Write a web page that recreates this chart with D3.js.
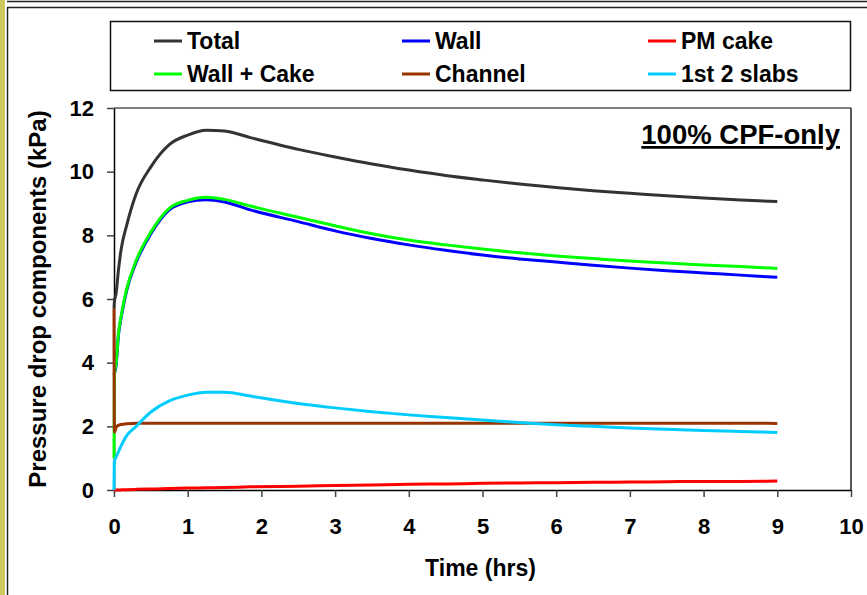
<!DOCTYPE html>
<html>
<head>
<meta charset="utf-8">
<script src="https://cdn.jsdelivr.net/npm/d3@7"></script>
<style>
  body { margin: 0; background: #fff; }
  svg { display: block; font-family: Arial, "Liberation Sans", sans-serif; }
</style>
</head>
<body>
<div id="chart"></div>
<script>
// ---- data ----
const timeHrs   = [0, 0.005, 0.03, 0.06, 0.1, 0.17, 0.3, 0.5, 0.75, 1.0, 1.25, 1.5, 1.85, 2.5, 3, 3.5, 4, 4.5, 5, 5.5, 6, 6.5, 7, 7.5, 8, 8.5, 9];
const total     = [5.7, 5.9, 6.2, 6.9, 7.6, 8.3, 9.3, 10.15, 10.85, 11.15, 11.3, 11.28, 11.07, 10.7, 10.46, 10.24, 10.05, 9.88, 9.74, 9.61, 9.5, 9.4, 9.32, 9.24, 9.17, 9.11, 9.06];
const wall      = [3.6, 3.65, 3.95, 4.85, 5.45, 6.25, 7.15, 8.05, 8.8, 9.05, 9.12, 9.05, 8.8, 8.43, 8.14, 7.9, 7.7, 7.53, 7.38, 7.26, 7.16, 7.06, 6.97, 6.89, 6.82, 6.75, 6.68];
const pmCake    = [0, 0, 0, 0, 0.005, 0.01, 0.02, 0.03, 0.045, 0.06, 0.07, 0.08, 0.1, 0.12, 0.14, 0.16, 0.18, 0.19, 0.21, 0.22, 0.23, 0.24, 0.25, 0.26, 0.27, 0.27, 0.28];
const wallCake  = [1.0, 3.6, 4.0, 4.9, 5.5, 6.3, 7.2, 8.1, 8.85, 9.1, 9.2, 9.13, 8.92, 8.57, 8.3, 8.05, 7.85, 7.7, 7.57, 7.45, 7.35, 7.27, 7.19, 7.13, 7.07, 7.02, 6.96];
const channel   = [5.7, 1.82, 1.97, 2.03, 2.06, 2.08, 2.1, 2.1, 2.1, 2.1, 2.1, 2.1, 2.1, 2.1, 2.1, 2.1, 2.1, 2.1, 2.1, 2.1, 2.1, 2.1, 2.1, 2.1, 2.1, 2.1, 2.09];
const slabs     = [0, 0.9, 1.05, 1.2, 1.4, 1.7, 2.0, 2.45, 2.8, 2.98, 3.07, 3.07, 2.95, 2.72, 2.58, 2.46, 2.36, 2.28, 2.2, 2.12, 2.05, 2.0, 1.95, 1.91, 1.87, 1.84, 1.81];

const seriesNames  = ["Total", "Wall", "PM cake", "Wall + Cake", "Channel", "1st 2 slabs"];
const seriesValues = [total, wall, pmCake, wallCake, channel, slabs];
const seriesColors = ["#333333", "#0000ff", "#ff0000", "#00ff00", "#993300", "#00ccff"];

const xTicks = [0, 1, 2, 3, 4, 5, 6, 7, 8, 9, 10];
const yTicks = [0, 2, 4, 6, 8, 10, 12];

// ---- layout ----
const width = 867, height = 595;
const plot = { left: 114, right: 851, top: 108, bottom: 490 };

const svg = d3.select("#chart").append("svg")
  .attr("width", width)
  .attr("height", height);

// window frame
svg.append("rect").attr("x", 0).attr("y", 0).attr("width", 5).attr("height", height).attr("fill", "#cdc95a");
svg.append("line").attr("x1", 7).attr("x2", width).attr("y1", 1.5).attr("y2", 1.5).attr("stroke", "#222").attr("stroke-width", 1.5);
svg.append("line").attr("x1", 7).attr("x2", width).attr("y1", 7.5).attr("y2", 7.5).attr("stroke", "#222").attr("stroke-width", 1.5);
svg.append("line").attr("x1", 7.5).attr("x2", 7.5).attr("y1", 7.5).attr("y2", height).attr("stroke", "#222").attr("stroke-width", 1.5);

const x = d3.scaleLinear().domain([0, 10]).range([plot.left, plot.right]);
const y = d3.scaleLinear().domain([0, 12]).range([plot.bottom, plot.top]);

// plot area border (top grey, right dark)
svg.append("line").attr("x1", plot.left).attr("x2", plot.right).attr("y1", plot.top).attr("y2", plot.top)
  .attr("stroke", "#808080").attr("stroke-width", 2);
svg.append("line").attr("x1", plot.right).attr("x2", plot.right).attr("y1", plot.top).attr("y2", plot.bottom)
  .attr("stroke", "#222").attr("stroke-width", 1.5);

// axes
const xAxis = svg.append("g")
  .attr("transform", `translate(0,${plot.bottom})`)
  .call(d3.axisBottom(x).tickValues(xTicks).tickFormat(d3.format("d")).tickSize(7).tickSizeOuter(0).tickPadding(21));
const yAxis = svg.append("g")
  .attr("transform", `translate(${plot.left},0)`)
  .call(d3.axisLeft(y).tickValues(yTicks).tickFormat(d3.format("d")).tickSize(7).tickSizeOuter(0).tickPadding(13));

[xAxis, yAxis].forEach(g => {
  g.select(".domain").attr("stroke", "#000").attr("stroke-width", 1.5);
  g.selectAll(".tick line").attr("stroke", "#444").attr("stroke-width", 1.5);
  g.selectAll(".tick text").attr("fill", "#000").attr("font-size", "22px").attr("font-weight", "bold")
    .attr("font-family", "Arial, 'Liberation Sans', sans-serif");
});

// axis titles
svg.append("text")
  .attr("x", (plot.left + plot.right) / 2 - 2).attr("y", 576)
  .attr("text-anchor", "middle").attr("font-size", "23px").attr("font-weight", "bold")
  .text("Time (hrs)");
svg.append("text")
  .attr("transform", `translate(46,${(plot.top + plot.bottom) / 2}) rotate(-90)`)
  .attr("text-anchor", "middle").attr("font-size", "24px").attr("font-weight", "bold")
  .text("Pressure drop components (kPa)");

// lines
const line = d3.line()
  .x((d, i) => x(timeHrs[i]))
  .y(d => y(d))
  .curve(d3.curveMonotoneX);

svg.append("g").selectAll("path")
  .data(seriesValues)
  .join("path")
  .attr("fill", "none")
  .attr("stroke", (d, i) => seriesColors[i])
  .attr("stroke-width", 3)
  .attr("stroke-linejoin", "round")
  .attr("d", line);

// annotation
svg.append("text")
  .attr("x", 840).attr("y", 144)
  .attr("text-anchor", "end").attr("font-size", "27.5px").attr("font-weight", "bold")
  .attr("text-decoration", "underline")
  .text("100% CPF-only");

// legend
svg.append("rect").attr("x", 110.5).attr("y", 21.5).attr("width", 740).attr("height", 69)
  .attr("fill", "#fff").attr("stroke", "#111").attr("stroke-width", 1.5);
const legendCols = [154, 402, 648];
const legendRows = [41, 74];
const legend = svg.append("g").selectAll("g")
  .data(seriesNames)
  .join("g")
  .attr("transform", (d, i) => `translate(${legendCols[i % 3]},${legendRows[Math.floor(i / 3)]})`);
legend.append("line").attr("x1", 0).attr("x2", 28).attr("y1", 0).attr("y2", 0)
  .attr("stroke", (d, i) => seriesColors[i]).attr("stroke-width", 3);
legend.append("text").attr("x", 33).attr("y", 8)
  .attr("font-size", "23px").attr("font-weight", "bold")
  .text(d => d);
</script>
</body>
</html>
